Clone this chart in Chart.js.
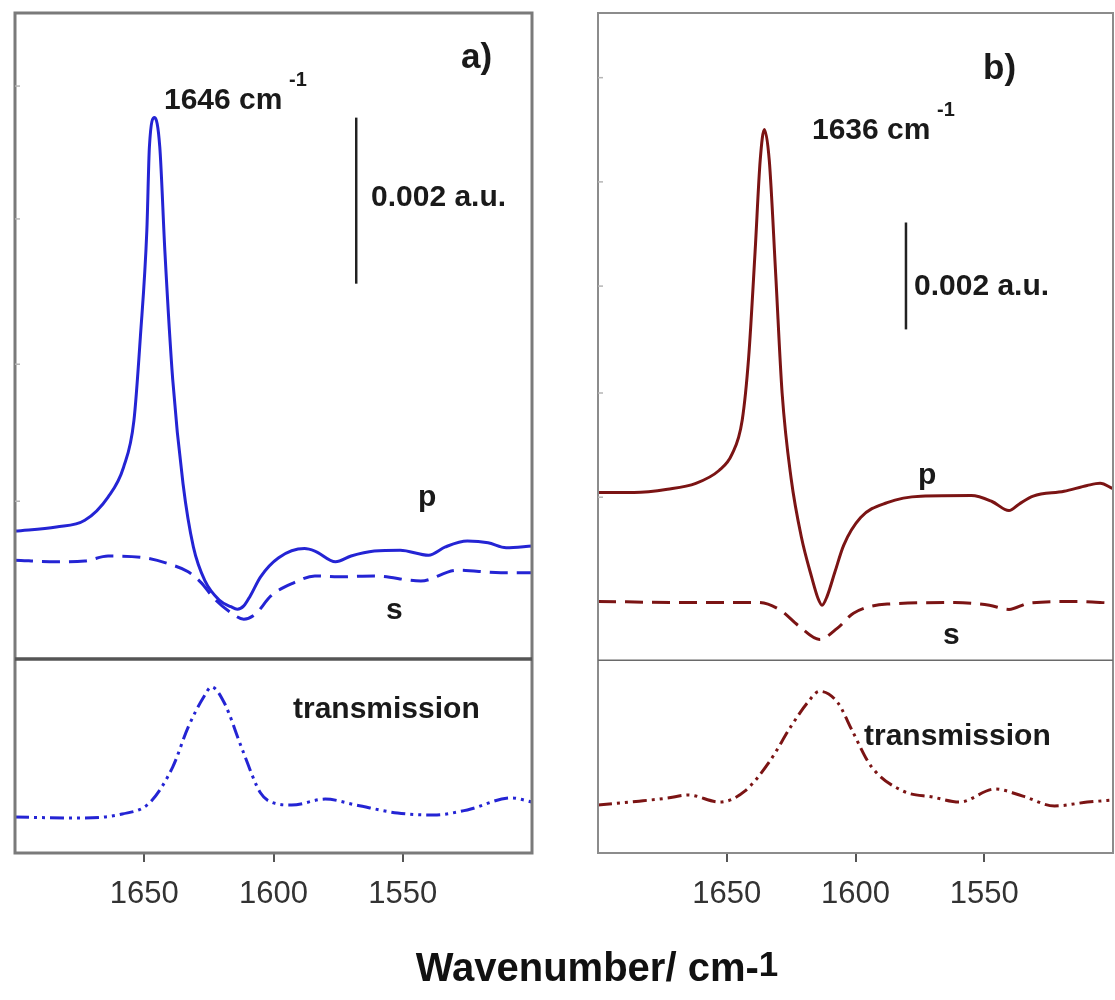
<!DOCTYPE html>
<html>
<head>
<meta charset="utf-8">
<script src="https://cdn.jsdelivr.net/npm/chart.js@4.4.0/dist/chart.umd.min.js"></script>
<style>
  html, body { margin: 0; padding: 0; background: #fff; }
  body { width: 1115px; height: 1000px; position: relative; overflow: hidden; font-family: "Liberation Sans", Arial, sans-serif; }
  canvas { position: absolute; top: 0; }
  #chartA { left: 0; }
  #chartB { left: 583px; }
  #xtitle { position: absolute; left: 0; width: 1194px; top: 947px; line-height: 40px; text-align: center; font-weight: bold; font-size: 40px; color: #111; }
  #xtitle span { position: relative; top: -5px; font-size: 35px; }
</style>
</head>
<body>
<canvas id="chartA" width="560" height="1000"></canvas>
<canvas id="chartB" width="532" height="1000"></canvas>
<div id="xtitle">Wavenumber/ cm-<span>1</span></div>
<script>
const xTicks = [1650, 1600, 1550];

// panel a) p polarisation (absorbance, 10^-3 a.u.)
const aPWave = [1700, 1684, 1673, 1664, 1658, 1654, 1651.5, 1649, 1648, 1646, 1644, 1642, 1639, 1635, 1631, 1626.5, 1621, 1616.5, 1614, 1611.5, 1609, 1605, 1598, 1588, 1584, 1576, 1570, 1561, 1551, 1540, 1533.5, 1525, 1517, 1510, 1500];
const aPAbs  = [1.54, 1.59, 1.67, 1.95, 2.31, 2.87, 3.88, 5.16, 6.17, 6.52, 6.17, 4.90, 3.37, 2.11, 1.35, 0.94, 0.71, 0.63, 0.60, 0.64, 0.76, 0.99, 1.22, 1.33, 1.30, 1.17, 1.24, 1.30, 1.31, 1.25, 1.35, 1.42, 1.40, 1.34, 1.36];
// panel a) s polarisation
const aSWave = [1700, 1684, 1673, 1664, 1650, 1640, 1633, 1628, 1623, 1617, 1611.5, 1607, 1601, 1592, 1584, 1575, 1561, 1543, 1529, 1512, 1500];
const aSAbs  = [1.19, 1.17, 1.18, 1.24, 1.22, 1.14, 1.05, 0.92, 0.73, 0.57, 0.48, 0.54, 0.76, 0.92, 1.00, 0.99, 1.00, 0.94, 1.07, 1.04, 1.04];
// panel a) transmission (arb. units)
const aTWave = [1700, 1678, 1658.5, 1648, 1639, 1633, 1627, 1624, 1619, 1612, 1605, 1600, 1593, 1580, 1568, 1552, 1538, 1525, 1508, 1500];
const aTAbs  = [0.186, 0.180, 0.201, 0.258, 0.443, 0.649, 0.804, 0.856, 0.773, 0.531, 0.309, 0.258, 0.247, 0.278, 0.247, 0.206, 0.196, 0.222, 0.284, 0.263];

// panel b) p polarisation
const bPWave = [1700, 1686, 1673, 1662, 1653, 1648, 1644, 1641.5, 1639, 1637, 1635.4, 1633.5, 1631, 1628.5, 1625, 1621, 1617, 1614.5, 1613, 1611, 1608, 1604.6, 1598, 1587.7, 1574.6, 1555, 1547, 1540.4, 1536.5, 1531, 1519, 1510, 1505, 1500];
const bPAbs  = [3.14, 3.14, 3.20, 3.31, 3.55, 3.85, 4.49, 5.66, 7.64, 9.36, 9.93, 9.36, 7.23, 5.00, 3.40, 2.30, 1.55, 1.15, 1.03, 1.20, 1.65, 2.15, 2.67, 2.95, 3.07, 3.08, 2.97, 2.80, 2.92, 3.07, 3.16, 3.27, 3.31, 3.21];
// panel b) s polarisation
const bSWave = [1700, 1666.5, 1637.7, 1629.6, 1622, 1614, 1607, 1600.8, 1587.7, 1561.5, 1548, 1540.4, 1532.5, 1515, 1500];
const bSAbs  = [1.10, 1.08, 1.08, 0.95, 0.64, 0.39, 0.60, 0.88, 1.05, 1.08, 1.03, 0.95, 1.07, 1.10, 1.07];
// panel b) transmission
const bTWave = [1700, 1684, 1673, 1665, 1652.7, 1643, 1633.5, 1625, 1618.5, 1614, 1607, 1601, 1594, 1581.5, 1570, 1559.6, 1545.8, 1535, 1522.7, 1510, 1500];
const bTAbs  = [0.249, 0.269, 0.285, 0.301, 0.264, 0.321, 0.472, 0.658, 0.782, 0.839, 0.782, 0.627, 0.451, 0.321, 0.290, 0.264, 0.332, 0.295, 0.244, 0.264, 0.275];

const FONT = '"Liberation Sans", Arial, sans-serif';
const toXY = (xs, ys) => xs.map((x, i) => ({ x: x, y: ys[i] }));

// frame, separator, scale bar and labels
const framePlugin = {
  id: 'frame',
  afterDatasetsDraw(chart, args, o) {
    const { ctx, chartArea: a } = chart;
    const sep = chart.scales.yT.top;
    ctx.save();
    ctx.strokeStyle = o.color;
    ctx.lineWidth = o.width;
    ctx.strokeRect(a.left, a.top, a.right - a.left, a.bottom - a.top);
    ctx.strokeStyle = o.sepColor;
    ctx.lineWidth = o.sepWidth;
    ctx.beginPath();
    ctx.moveTo(a.left, sep);
    ctx.lineTo(a.right, sep);
    ctx.stroke();

    // faint inner ticks on the left edge
    ctx.strokeStyle = '#b5b5b5';
    ctx.lineWidth = 1.5;
    o.yTicks.forEach(v => {
      const py = chart.scales.y.getPixelForValue(v);
      ctx.beginPath();
      ctx.moveTo(a.left, py);
      ctx.lineTo(a.left + 5, py);
      ctx.stroke();
    });

    // 0.002 a.u. bar
    const bx = chart.scales.x.getPixelForValue(o.bar.x);
    ctx.strokeStyle = '#222';
    ctx.lineWidth = 2.5;
    ctx.beginPath();
    ctx.moveTo(bx, chart.scales.y.getPixelForValue(o.bar.from));
    ctx.lineTo(bx, chart.scales.y.getPixelForValue(o.bar.from + 2));
    ctx.stroke();

    ctx.fillStyle = '#1a1a1a';
    ctx.textBaseline = 'alphabetic';
    ctx.textAlign = 'left';
    o.labels.forEach(l => {
      ctx.font = 'bold ' + l.size + 'px ' + FONT;
      ctx.fillText(l.text, l.x - o.offset, l.y);
    });
    ctx.restore();
  }
};

function hiddenY(weight, max) {
  return {
    stack: 'panel', stackWeight: weight, min: 0, max: max,
    ticks: { display: false }, grid: { display: false }, border: { display: false },
    afterFit: ax => { ax.width = 0; }
  };
}

function makePanel(id, color, data, yMax, pad, frame) {
  new Chart(document.getElementById(id), {
    type: 'line',
    data: {
      datasets: [
        { data: toXY(data.pw, data.pa), yAxisID: 'y', borderColor: color, borderWidth: 3 },
        { data: toXY(data.sw, data.sa), yAxisID: 'y', borderColor: color, borderWidth: 3, borderDash: [18, 9] },
        { data: toXY(data.tw, data.ta), yAxisID: 'yT', borderColor: color, borderWidth: 3, borderDash: [14, 5, 3, 5, 3, 5] }
      ]
    },
    options: {
      responsive: false,
      animation: false,
      layout: { padding: pad },
      elements: { point: { radius: 0 }, line: { cubicInterpolationMode: 'monotone' } },
      plugins: { legend: { display: false }, tooltip: { enabled: false }, frame: frame },
      scales: {
        x: {
          type: 'linear', min: 1500, max: 1700, reverse: true,
          afterBuildTicks: ax => { ax.ticks = xTicks.map(v => ({ value: v })); },
          afterFit: ax => { ax.height = 147; },
          grid: { drawOnChartArea: false, tickLength: 9, color: '#555', lineWidth: 2 },
          border: { display: false },
          ticks: {
            font: { size: 31, family: FONT }, color: '#333', padding: 14, maxRotation: 0, autoSkip: false,
            callback: v => String(v)
          }
        },
        yT: hiddenY(yMax.wT, 1),
        y: hiddenY(yMax.w, yMax.top)
      }
    },
    plugins: [framePlugin]
  });
}

makePanel('chartA', '#2424d4',
  { pw: aPWave, pa: aPAbs, sw: aSWave, sa: aSAbs, tw: aTWave, ta: aTAbs },
  { w: 646, top: 7.78, wT: 194 },
  { left: 15, right: 28, top: 13, bottom: 0 },
  {
    color: '#7a7a7a', width: 3, sepColor: '#555', sepWidth: 3.5, offset: 0,
    yTicks: [1.9, 3.55, 5.3, 6.9],
    bar: { x: 1568, from: 4.52 },
    labels: [
      { text: 'a)', x: 461, y: 68, size: 35 },
      { text: '1646 cm', x: 164, y: 109, size: 30 },
      { text: '-1', x: 289, y: 86, size: 20 },
      { text: '0.002 a.u.', x: 371, y: 206, size: 30 },
      { text: 'p', x: 418, y: 506, size: 30 },
      { text: 's', x: 386, y: 619, size: 30 },
      { text: 'transmission', x: 293, y: 718, size: 30 }
    ]
  });

makePanel('chartB', '#7b1414',
  { pw: bPWave, pa: bPAbs, sw: bSWave, sa: bSAbs, tw: bTWave, ta: bTAbs },
  { w: 648, top: 12.11, wT: 193 },
  { left: 15, right: 2, top: 13, bottom: 0 },
  {
    color: '#8c8c8c', width: 2, sepColor: '#6a6a6a', sepWidth: 1.5, offset: 583,
    yTicks: [3.05, 5.0, 7.0, 8.95, 10.9],
    bar: { x: 1580.4, from: 6.19 },
    labels: [
      { text: 'b)', x: 983, y: 79, size: 35 },
      { text: '1636 cm', x: 812, y: 139, size: 30 },
      { text: '-1', x: 937, y: 116, size: 20 },
      { text: '0.002 a.u.', x: 914, y: 295, size: 30 },
      { text: 'p', x: 918, y: 484, size: 30 },
      { text: 's', x: 943, y: 644, size: 30 },
      { text: 'transmission', x: 864, y: 745, size: 30 }
    ]
  });
</script>
</body>
</html>
